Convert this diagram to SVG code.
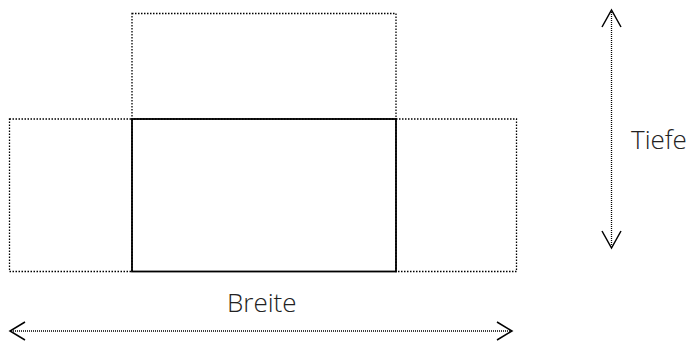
<svg xmlns="http://www.w3.org/2000/svg" width="697" height="342" viewBox="0 0 697 342">
<style>
.dot{fill:none;stroke:#000;stroke-width:1.3;stroke-dasharray:1.5 1.5}
.solid{fill:none;stroke:#000;stroke-width:1.8}
.arr{fill:none;stroke:#000;stroke-width:1.3;stroke-dasharray:1 1}
.head{fill:none;stroke:#000;stroke-width:1.5}
.lbl{font-family:"Open Sans","Noto Sans",sans-serif;font-weight:300;font-size:26px;fill:#222}
</style>
<rect width="697" height="342" fill="#fff"/>
<g id="top"><rect class="dot" x="132" y="13.5" width="264" height="105.5"/></g>
<g id="left"><rect class="dot" x="9.5" y="119" width="122.5" height="152.5"/></g>
<g id="right"><rect class="dot" x="396" y="119" width="120.5" height="152.5"/></g>
<g id="center"><rect class="solid" x="132" y="119" width="264" height="152.5"/></g>
<g id="connectors">
<line class="arr" x1="11" y1="331" x2="511" y2="331"/>
<polyline class="head" points="25,322 10,331 25,340"/>
<polyline class="head" points="497,322 512,331 497,340"/>
<line class="arr" x1="611.5" y1="12" x2="611.5" y2="246"/>
<polyline class="head" points="602,27 611.5,10 621,27"/>
<polyline class="head" points="602,231 611.5,248 621,231"/>
</g>
<g id="labels">
<text class="lbl" x="227" y="311.5">Breite</text>
<text class="lbl" x="631" y="148.5">Tiefe</text>
</g>
</svg>
